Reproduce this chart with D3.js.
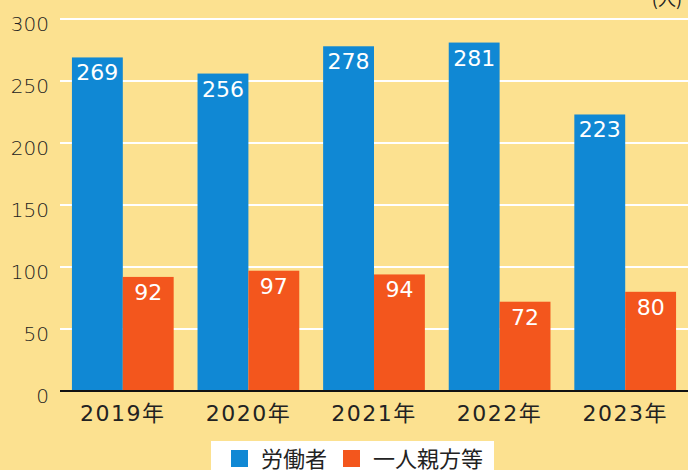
<!DOCTYPE html>
<html><head><meta charset="utf-8">
<script src="https://cdn.jsdelivr.net/npm/d3@7"></script>
<style>body{margin:0;background:#fce190;}svg{display:block;}</style>
</head><body>
<script>
const categories = ["2019年","2020年","2021年","2022年","2023年"];
const seriesNames = ["労働者","一人親方等"];
const workers = [269,256,278,281,223];
const soleProprietors = [92,97,94,72,80];
const yTicks = [0,50,100,150,200,250,300];
const unitLabel = "(人)";

const W=688,H=470;
const font = "'DejaVu Sans','Noto Sans CJK JP',sans-serif";
const cjk = "'Noto Sans CJK JP',sans-serif";
const colors = ["#1088d4","#f3561d"];
const svg = d3.select("body").append("svg").attr("width",W).attr("height",H);
svg.append("rect").attr("width",W).attr("height",H).attr("fill","#fce190");

const x0=60,x1=688,yTop=19,yBot=391;
const y = d3.scaleLinear().domain([0,300]).range([yBot,yTop]);
const x = d3.scaleBand().domain(categories).range([x0,x1]).paddingInner(0.19).paddingOuter(0.095);
const xs = d3.scaleBand().domain(seriesNames).range([0,x.bandwidth()]);

// gridlines
svg.append("g").selectAll("line").data(yTicks.filter(d=>d>0)).join("line")
  .attr("x1",x0).attr("x2",x1).attr("y1",d=>y(d)).attr("y2",d=>y(d))
  .attr("stroke","#fff").attr("stroke-width",2);

// y labels
svg.append("g").selectAll("text").data(yTicks).join("text")
  .attr("x",49).attr("y",d=>y(d)+11.5).attr("text-anchor","end")
  .attr("font-family",font).attr("font-size",20).attr("font-weight",300).attr("fill","#222").text(d=>d);

const data = categories.map((c,i)=>({c, vals:[workers[i],soleProprietors[i]]}));
const g = svg.append("g").selectAll("g").data(data).join("g")
  .attr("transform",d=>`translate(${x(d.c)},0)`);
g.selectAll("rect").data(d=>d.vals.map((v,j)=>({v,s:seriesNames[j],j}))).join("rect")
  .attr("x",d=>xs(d.s)).attr("width",xs.bandwidth())
  .attr("y",d=>y(d.v)).attr("height",d=>y(0)-y(d.v)).attr("fill",d=>colors[d.j]);
g.selectAll("text").data(d=>d.vals.map((v,j)=>({v,s:seriesNames[j],j}))).join("text")
  .attr("x",d=>xs(d.s)+xs.bandwidth()/2).attr("y",d=>y(d.v)+23)
  .attr("text-anchor","middle").attr("font-family",font).attr("font-size",22)
  .attr("fill","#fff").text(d=>d.v);

// axis line
svg.append("line").attr("x1",x0).attr("x2",x1).attr("y1",yBot).attr("y2",yBot)
  .attr("stroke","#111").attr("stroke-width",2);

// x labels
svg.append("g").selectAll("text").data(categories).join("text")
  .attr("x",d=>x(d)+x.bandwidth()/2).attr("y",421).attr("text-anchor","middle")
  .attr("font-family",font).attr("font-size",22).attr("letter-spacing",1.5).attr("fill","#222").text(d=>d);

// unit
svg.append("text").attr("x",682).attr("y",6).attr("text-anchor","end")
  .attr("font-family",cjk).attr("font-size",18).attr("fill","#222").text(unitLabel);

// legend
const lg = svg.append("g");
lg.append("rect").attr("x",211).attr("y",441).attr("width",283).attr("height",35).attr("fill","#fff");
const items = [{n:seriesNames[0],c:colors[0],x:231},{n:seriesNames[1],c:colors[1],x:343}];
items.forEach(it=>{
  lg.append("rect").attr("x",it.x).attr("y",450).attr("width",17).attr("height",17).attr("fill",it.c);
  lg.append("text").attr("x",it.x+30).attr("y",467).attr("font-family",cjk).attr("font-size",22)
    .attr("fill","#222").text(it.n);
});
</script>
</body></html>
